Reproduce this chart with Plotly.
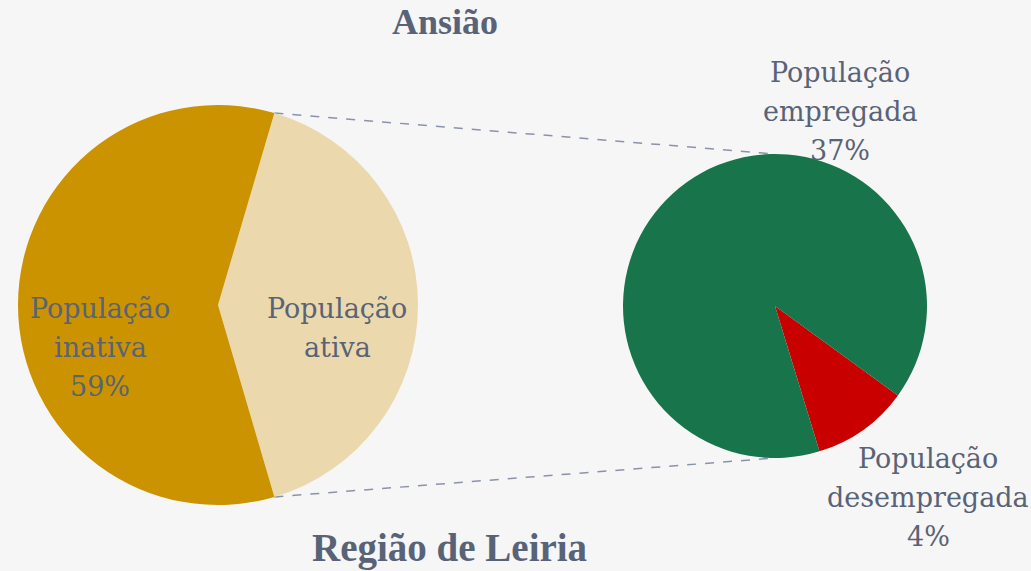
import math
import plotly.graph_objects as go

# ---- data ----
main_labels = ["População ativa", "População inativa"]
main_values = [40.9, 59.1]
main_text = [["População", "ativa"], ["População", "inativa"]]

sub_labels = ["População desempregada", "População empregada"]
sub_values = [4.2, 36.7]
sub_text = [["População", "desempregada"], ["População", "empregada"]]

title_top = "Ansião"
title_bottom = "Região de Leiria"

W, H = 1031, 571
TXT = "#596377"
BG = "#f6f6f6"

# geometry (pixels)
L_cx, L_cy, L_r = 218, 305, 200
R_cx, R_cy, R_r = 775, 306, 152

def dom(cx, cy, r):
    return dict(x=[(cx - r) / W, (cx + r) / W],
                y=[(H - cy - r) / H, (H - cy + r) / H])

total = sum(main_values)
ativa_deg = main_values[0] / total * 360
rot_main = 90 - ativa_deg / 2          # ativa slice centred on 3 o'clock

sub_total = sum(sub_values)
red_deg = sub_values[0] / sub_total * 360
rot_sub = 144.5 - red_deg / 2

fig = go.Figure()
fig.add_trace(go.Pie(
    labels=main_labels, values=main_values, sort=False, direction="clockwise",
    rotation=rot_main, domain=dom(L_cx, L_cy, L_r), textinfo="none",
    marker=dict(colors=["#ebd9ad", "#cc9300"], line=dict(width=0)),
    showlegend=False, hoverinfo="label+percent"))
fig.add_trace(go.Pie(
    labels=sub_labels, values=sub_values, sort=False, direction="clockwise",
    rotation=rot_sub, domain=dom(R_cx, R_cy, R_r), textinfo="none",
    marker=dict(colors=["#c80000", "#18744a"], line=dict(width=0)),
    showlegend=False, hoverinfo="label+value"))

# connector lines from the ativa slice edges to top/bottom of secondary pie
a = math.radians(rot_main)
p_top = (L_cx + L_r * math.sin(a), L_cy - L_r * math.cos(a))
p_bot = (L_cx + L_r * math.sin(a), L_cy + L_r * math.cos(a))
for (x0, y0), (x1, y1) in [(p_top, (R_cx, R_cy - R_r)), (p_bot, (R_cx, R_cy + R_r))]:
    fig.add_shape(type="line", xref="paper", yref="paper",
                  x0=x0 / W, y0=1 - y0 / H, x1=x1 / W, y1=1 - y1 / H,
                  line=dict(color="#8a93a8", width=1.5, dash="dash"), layer="below")

def pct(v, t):
    return f"{round(v / t * 100):d}%"

font_lbl = dict(family="DejaVu Serif", size=27, color=TXT)
LINE = 39
blocks = [
    (main_text[1] + [pct(main_values[1], total)], 100, 347),
    (main_text[0], 337, 328),
    (sub_text[1] + [pct(sub_values[1], total)], 840, 111),
    (sub_text[0] + [pct(sub_values[0], total)], 928, 497),
]
for lines, cx, cy in blocks:
    n = len(lines)
    for i, t in enumerate(lines):
        y = cy + (i - (n - 1) / 2) * LINE
        fig.add_annotation(text=t, x=cx / W, y=1 - y / H,
                           xref="paper", yref="paper", showarrow=False,
                           xanchor="center", yanchor="middle", align="center",
                           font=font_lbl)

fig.add_annotation(text="<b>" + title_top + "</b>", x=445 / W, y=1 - 22 / H,
                   xref="paper", yref="paper", showarrow=False,
                   xanchor="center", yanchor="middle",
                   font=dict(family="Liberation Serif", size=36, color=TXT))
fig.add_annotation(text="<b>" + title_bottom + "</b>", x=449 / W, y=1 - 548 / H,
                   xref="paper", yref="paper", showarrow=False,
                   xanchor="center", yanchor="middle",
                   font=dict(family="Liberation Serif", size=39, color=TXT))

fig.update_layout(width=W, height=H, margin=dict(l=0, r=0, t=0, b=0),
                  paper_bgcolor=BG, plot_bgcolor=BG)
fig.write_html("out.html", config={"displayModeBar": False},
               post_script="document.body.style.margin='0px';"
                           "document.body.style.overflow='hidden';")
